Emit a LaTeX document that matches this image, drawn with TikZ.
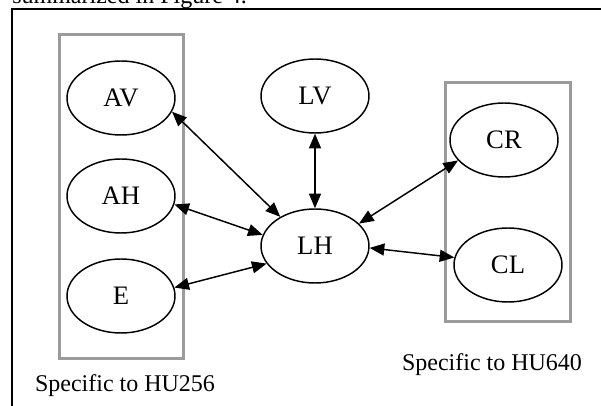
\documentclass[tikz,border=0pt]{standalone}
\usepackage{fontspec}
\setmainfont{Liberation Serif}
\usetikzlibrary{arrows.meta,shapes.geometric}
\definecolor{hugray}{HTML}{9B9B9B}
\definecolor{huink}{HTML}{000000}
\tikzset{
  var/.style={ellipse,draw=huink,line width=1.1pt,minimum width=81pt,
    minimum height=55.5pt,inner sep=0pt,font=\fontsize{20}{23}\selectfont},
  grp/.style={draw=hugray,line width=2.25pt},
  lbl/.style={inner sep=0pt,font=\fontsize{18}{21}\selectfont},
  link/.style={{Triangle[length=11pt,width=9pt]}-{Triangle[length=11pt,width=9pt]},
    line width=1.1pt,color=huink},
}
\begin{document}
\begin{tikzpicture}[x=0.75pt,y=-0.75pt]
\useasboundingbox (0,0) rectangle (601,406);
\node[lbl,anchor=base west] (cap) at (12,4) {summarized in Figure 4.};
\draw[line width=1.5pt] (12,420) -- (12,9) -- (620,9);
\draw[grp] (59,35) rectangle (183,359);
\draw[grp] (445,83) rectangle (570,322);
\node[var] (AV) at (121,98) {AV};
\node[var] (AH) at (121,196) {AH};
\node[var] (E) at (121,296) {E};
\node[var] (LV) at (315,96) {LV};
\node[var] (LH) at (315,246) {LH};
\node[var] (CR) at (504,140) {CR};
\node[var] (CL) at (508,265) {CL};
\node[lbl,anchor=base] (hu256) at (125,392) {Specific to HU256};
\node[lbl,anchor=base] (hu640) at (492,371) {Specific to HU640};
\draw[link] (AV.-15) -- (LH.140);
\draw[link] (AH.-9) -- (LH.168);
\draw[link] (E.9) -- (LH.200);
\draw[link] (LV) -- (LH);
\draw[link] (CR.204) -- (LH.27);
\draw[link] (CL.172) -- (LH.-2);
\end{tikzpicture}
\end{document}
